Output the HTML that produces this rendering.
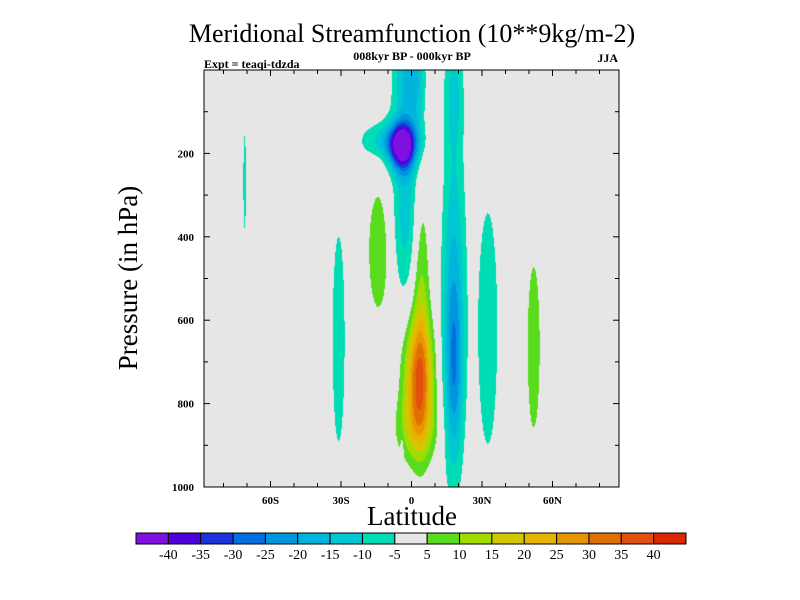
<!DOCTYPE html>
<html><head><meta charset="utf-8">
<style>
html,body{margin:0;padding:0;background:#fff;}
#wrap{position:relative;width:800px;height:600px;overflow:hidden;font-family:"Liberation Serif",serif;}
#field{position:absolute;left:204px;top:70px;}
svg{position:absolute;left:0;top:0;}
</style></head>
<body>
<div id="wrap">
<canvas id="field" width="415" height="417"></canvas>
<svg id="svg" width="800" height="600">
<text x="412" y="42" font-size="26" text-anchor="middle">Meridional Streamfunction (10**9kg/m-2)</text>
<text x="412" y="60" font-size="12" font-weight="bold" text-anchor="middle">008kyr BP - 000kyr BP</text>
<text x="204" y="68" font-size="12" font-weight="bold">Expt = teaqi-tdzda</text>
<text x="618" y="62" font-size="12" font-weight="bold" text-anchor="end">JJA</text>
<text x="412" y="525" font-size="27" text-anchor="middle">Latitude</text>
<text transform="translate(137,278) rotate(-90)" font-size="27" text-anchor="middle">Pressure (in hPa)</text>
<g id="axes"></g>
<g id="cbar"></g>
</svg>
</div>
<script>
// blob data: latitude centre, pressure centre, amplitude, lat width, pressure width
const blobLat  = [-4, -9, -2.5, -2,  3,  3,  4,  2, 18, 18, 18, -14, -31,  32.5, -71,  52, -4];
const blobPres = [185,170, 320,  0, 40,740,560,860,550, 50,720, 435, 645, 620, 268, 665,920];
const blobAmp  = [-36,-14, -13,-14,-8, 30, 11, 10,-16, -9,-13,   9,  -9,  -9,  -9,   9, -6];
const blobSLat = [5.5, 12, 5.6, 6, 3, 6, 3.6, 9, 5, 4, 3.5, 5.2, 3.3, 5.2, 0.7, 3.3, 0.6];
const blobSPres= [55, 45, 230,160,120,140,320,80,420,130,200,175,320,360,145,250,40];
const levels = [-40,-35,-30,-25,-20,-15,-10,-5,5,10,15,20,25,30,35,40];
const levelLabels = ["-40","-35","-30","-25","-20","-15","-10","-5","5","10","15","20","25","30","35","40"];
const colors = ["#8010e0","#4c00dc","#1e32dc","#0070e0","#0096dc","#00b4dc","#00c8d2","#00dcb4","#e6e6e6","#5adc1e","#a0dc00","#d2c800","#e6b400","#e69600","#e07000","#e05010","#dc2800"];
const xTicks = [-60,-30,0,30,60];
const xTickLabels = ["60S","30S","0","30N","60N"];
const yTicks = [200,400,600,800,1000];

const X0=204,X1=619,Y0=70,Y1=487,LATMIN=-88.3,LATMAX=88.3;
const xs = lat => X0 + (lat-LATMIN)/(LATMAX-LATMIN)*(X1-X0);
const ys = p => Y0 + p/1000*(Y1-Y0);
const NS="http://www.w3.org/2000/svg";

function field(lat,p){let v=0;for(let i=0;i<blobLat.length;i++){const a=(lat-blobLat[i])/blobSLat[i],b=(p-blobPres[i])/blobSPres[i];v+=blobAmp[i]*Math.exp(-(a*a+b*b));}return v;}
function colorIdx(v){let i=0;while(i<levels.length&&v>=levels[i])i++;return i;}
function hex(c){return [parseInt(c.slice(1,3),16),parseInt(c.slice(3,5),16),parseInt(c.slice(5,7),16)];}
const rgb=colors.map(hex);
const cv=document.getElementById('field'),ctx=cv.getContext('2d');
const W=cv.width,H=cv.height,img=ctx.createImageData(W,H);
for(let py=0;py<H;py++){const p=(py+0.5)/H*1000;for(let px=0;px<W;px++){const lat=LATMIN+(px+0.5)/W*(LATMAX-LATMIN);const c=rgb[colorIdx(field(lat,p))];const k=(py*W+px)*4;img.data[k]=c[0];img.data[k+1]=c[1];img.data[k+2]=c[2];img.data[k+3]=255;}}
ctx.putImageData(img,0,0);

const ax=document.getElementById('axes');
function el(t,a,parent){const e=document.createElementNS(NS,t);for(const k in a)e.setAttribute(k,a[k]);(parent||ax).appendChild(e);return e;}
let fr=el('rect',{x:X0,y:Y0,width:X1-X0,height:Y1-Y0,fill:'none',stroke:'#000','stroke-width':1});


for(let lat=-80;lat<=80;lat+=10){const x=xs(lat),L=(lat%30===0)?6:4;
 let t=el('line',{x1:x,x2:x,y1:Y1,y2:Y1-L,stroke:'#000'});
 
 
 el('line',{x1:x,x2:x,y1:Y0,y2:Y0+L,stroke:'#000'});}
xTicks.forEach((lat,i)=>{let t=el('text',{x:xs(lat),y:Y1+17,'font-size':11,'font-weight':'bold','text-anchor':'middle'});t.textContent=xTickLabels[i];
 
 });
for(let p=100;p<1000;p+=100){const y=ys(p),L=(p%200===0)?6:4;
 let t=el('line',{x1:X0,x2:X0+L,y1:y,y2:y,stroke:'#000'});
 
 
 el('line',{x1:X1,x2:X1-L,y1:y,y2:y,stroke:'#000'});}
yTicks.forEach(p=>{let t=el('text',{x:X0-10,y:ys(p)+4,'font-size':11,'font-weight':'bold','text-anchor':'end'});t.textContent=String(p);
 
 });

const cb=document.getElementById('cbar');
const CX0=136,CX1=686,CY=533,CH=11,bw=(CX1-CX0)/colors.length;
colors.forEach((c,i)=>{let r=el('rect',{x:CX0+i*bw,y:CY,width:bw,height:CH,fill:c,stroke:'#000','stroke-width':1},cb);
 
 });
levelLabels.forEach((s,i)=>{let t=el('text',{x:CX0+(i+1)*bw,y:CY+26,'font-size':14,'text-anchor':'middle'},cb);t.textContent=s;
 
 });
</script>
</body></html>
